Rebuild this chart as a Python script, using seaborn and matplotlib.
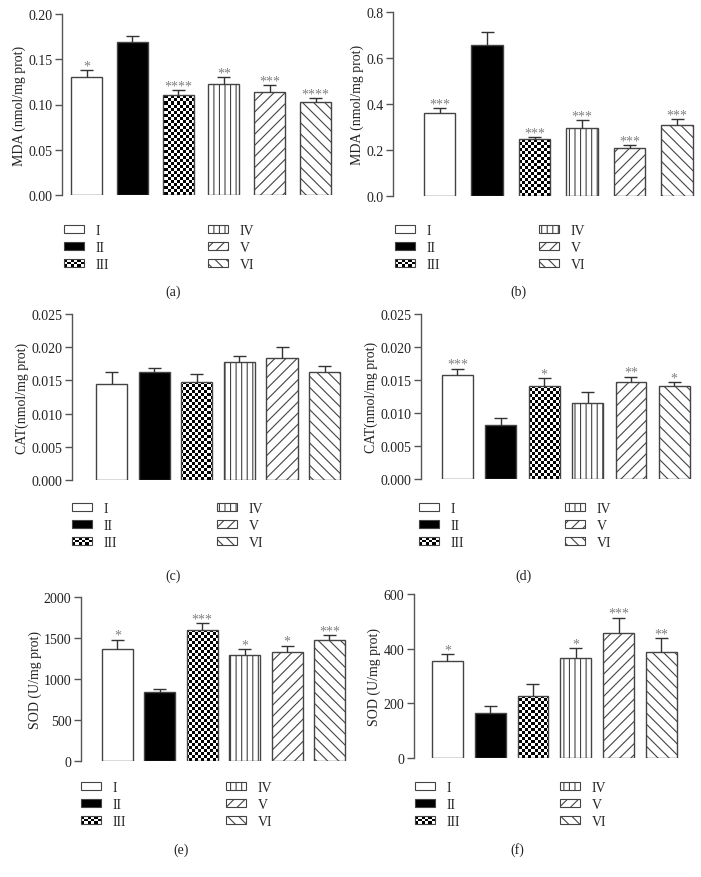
import numpy as np
import pandas as pd
import matplotlib
matplotlib.use('Agg')
import matplotlib.pyplot as plt
import seaborn as sns
from matplotlib.patches import Patch, Rectangle
from matplotlib.legend_handler import HandlerBase

# groups and their look
groups = ['I', 'II', 'III', 'IV', 'V', 'VI']
face_colors = ['white', 'black', 'white', 'white', 'white', 'white']
hatches = ['', '', '', '|||', '///', '\\\\\\']

# (a) MDA
mda_a = [0.130, 0.169, 0.111, 0.1225, 0.114, 0.103]
mda_a_sem = [0.008, 0.007, 0.0045, 0.0075, 0.0074, 0.004]
mda_a_stars = ['*', '', '****', '**', '***', '****']

# (b) MDA
mda_b = [0.360, 0.657, 0.246, 0.293, 0.206, 0.307]
mda_b_sem = [0.021, 0.053, 0.008, 0.036, 0.013, 0.025]
mda_b_stars = ['***', '', '***', '***', '***', '***']

# (c) CAT
cat_c = [0.0145, 0.0163, 0.0147, 0.0177, 0.0184, 0.0162]
cat_c_sem = [0.0017, 0.0006, 0.0012, 0.0010, 0.0017, 0.0010]
cat_c_stars = ['', '', '', '', '', '']

# (d) CAT
cat_d = [0.0157, 0.0081, 0.0141, 0.0115, 0.0147, 0.0141]
cat_d_sem = [0.0010, 0.0011, 0.0011, 0.0017, 0.0008, 0.0005]
cat_d_stars = ['***', '', '*', '', '**', '*']

# (e) SOD
sod_e = [1367, 841, 1600, 1290, 1327, 1478]
sod_e_sem = [115, 32, 82, 77, 81, 61]
sod_e_stars = ['*', '', '***', '*', '*', '***']

# (f) SOD
sod_f = [355, 165, 228, 364, 455, 387]
sod_f_sem = [24, 24, 44, 39, 58, 51]
sod_f_stars = ['*', '', '', '*', '***', '**']

W, H = 701, 878
sns.set_style('ticks')
plt.rcParams['font.family'] = ['Liberation Serif', 'DejaVu Serif']
plt.rcParams['hatch.linewidth'] = 0.8
fig = plt.figure(figsize=(W / 100, H / 100), dpi=100)

EDGE = '#444444'
GRID = '#555555'


class CheckerHandler(HandlerBase):
    # legend key for the checkerboard group
    def create_artists(self, legend, orig_handle, xdescent, ydescent,
                       width, height, fontsize, trans):
        arts = []
        nx, ny = 6, 3
        for i in range(nx):
            for j in range(ny):
                c = 'black' if (i + j) % 2 == 0 else 'white'
                arts.append(Rectangle((-xdescent + i * width / nx, -ydescent + j * height / ny),
                                      width / nx, height / ny, facecolor=c,
                                      edgecolor='none', transform=trans))
        arts.append(Rectangle((-xdescent, -ydescent), width, height, facecolor='none',
                              edgecolor=EDGE, lw=0.8, transform=trans))
        return arts


def panel(rect, xlim_left, bw, values, sem, stars, ymax, step, fmt, ylabel,
          leg_x, leg_y, cap_xy, cap):
    left, top, width, bottom = rect
    ax = fig.add_axes([left / W, 1 - bottom / H, width / W, (bottom - top) / H])
    df = pd.DataFrame({'group': groups, 'value': values})
    sns.barplot(data=df, x='group', y='value', hue='group',
                palette=dict(zip(groups, face_colors)), legend=False,
                width=bw, edgecolor=EDGE, linewidth=1.0, errorbar=None, ax=ax)
    bars = list(ax.patches)
    for bar, h in zip(bars, hatches):
        bar.set_hatch(h)

    # checkerboard for group III
    cell = 3.0
    h_px = bottom - top
    nx = int(np.ceil(width / cell))
    ny = int(np.ceil(h_px / cell))
    board = (np.indices((ny, nx)).sum(axis=0) % 2).astype(float)
    im = ax.imshow(board, cmap='gray', extent=(0, nx * cell / width, 0, ny * cell / h_px),
                   transform=ax.transAxes, interpolation='nearest', aspect='auto', zorder=0.9)
    bars[2].set_facecolor('none')
    im.set_clip_path(bars[2])

    # upper error bars and stars
    xs = [b.get_x() + b.get_width() / 2 for b in bars]
    tops = [v + e for v, e in zip(values, sem)]
    spacing = width / (5.5 - xlim_left)
    capw = 6.5 / spacing
    ax.vlines(xs, values, tops, color='#333333', lw=1.0, zorder=2)
    ax.hlines(tops, [x - capw for x in xs], [x + capw for x in xs], color='#333333', lw=1.0, zorder=2)
    for x, t, s in zip(xs, tops, stars):
        if s:
            ax.annotate(s, (x, t), xytext=(0, 0.5), textcoords='offset points',
                        ha='center', va='baseline', fontsize=10, color='#808080')

    ax.set_xlim(xlim_left, 5.5)
    ax.set_ylim(0, ymax)
    ax.set_xticks([])
    ax.set_xlabel('')
    ticks = np.arange(0, ymax + step / 2, step)
    ax.set_yticks(ticks)
    ax.set_yticklabels([fmt.format(t) for t in ticks], fontsize=10, color='#222222')
    ax.set_ylabel(ylabel, fontsize=10, color='#222222', labelpad=1.5)
    ax.tick_params(axis='y', length=5, width=1.0, color=GRID, pad=2)
    sns.despine(ax=ax, bottom=True)
    ax.spines['left'].set_color(GRID)
    ax.spines['left'].set_linewidth(1.0)

    # legend, two columns as two legends
    handles = []
    for g, fc, h in zip(groups, face_colors, hatches):
        handles.append(Patch(facecolor=fc, edgecolor=EDGE, hatch=h, lw=0.8, label=g))
    hmap = {handles[2]: CheckerHandler()}
    kw = dict(loc='upper left', frameon=False, fontsize=10, borderpad=0, borderaxespad=0,
              handlelength=1.45, handleheight=0.5, handletextpad=0.85, labelspacing=0.28,
              bbox_transform=fig.transFigure, handler_map=hmap)
    leg1 = ax.legend(handles=handles[:3], bbox_to_anchor=(leg_x[0] / W, 1 - leg_y / H), **kw)
    ax.add_artist(leg1)
    ax.legend(handles=handles[3:], bbox_to_anchor=(leg_x[1] / W, 1 - leg_y / H), **kw)

    fig.text(cap_xy[0] / W, 1 - cap_xy[1] / H, cap, ha='center', va='center',
             fontsize=10, color='#222222')
    return ax


# rect = (left, top, width, bottom) in pixels
panel((62, 15, 276.4, 196), -0.535, 0.677, mda_a, mda_a_sem, mda_a_stars, 0.20, 0.05,
      '{:.2f}', 'MDA (nmol/mg prot)', (64, 208), 225, (173, 292), '(a)')
panel((393, 12.7, 307.8, 196.7), -0.98, 0.665, mda_b, mda_b_sem, mda_b_stars, 0.8, 0.2,
      '{:.1f}', 'MDA (nmol/mg prot)', (395, 539), 225, (518, 292), '(b)')
panel((72, 315, 273.9, 481), -0.93, 0.73, cat_c, cat_c_sem, cat_c_stars, 0.025, 0.005,
      '{:.3f}', 'CAT(nmol/mg prot)', (72, 217), 503, (173, 576), '(c)')
panel((421, 314.7, 275, 480), -0.84, 0.71, cat_d, cat_d_sem, cat_d_stars, 0.025, 0.005,
      '{:.3f}', 'CAT(nmol/mg prot)', (419, 565), 503, (523, 576), '(d)')
panel((81, 598.3, 269.7, 761.7), -0.86, 0.73, sod_e, sod_e_sem, sod_e_stars, 2000, 500,
      '{:.0f}', 'SOD (U/mg prot)', (81, 226), 782, (181, 850), '(e)')
panel((414, 594.7, 268.8, 759.3), -0.78, 0.72, sod_f, sod_f_sem, sod_f_stars, 600, 200,
      '{:.0f}', 'SOD (U/mg prot)', (415, 560), 782, (517, 850), '(f)')

fig.savefig('out.png', dpi=100)
